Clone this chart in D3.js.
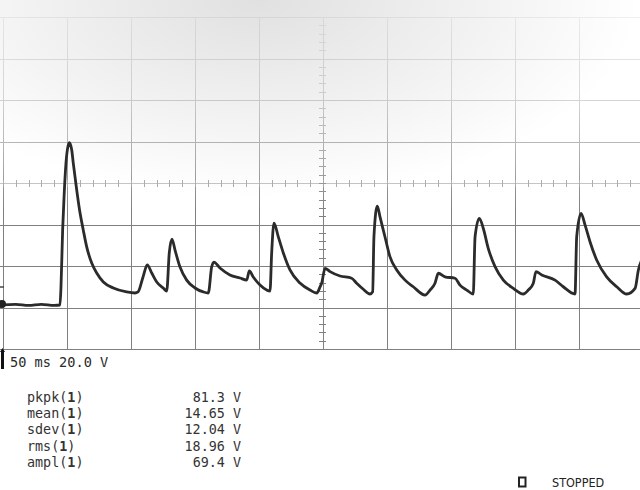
<!DOCTYPE html>
<html>
<head>
<meta charset="utf-8">
<script src="https://cdn.jsdelivr.net/npm/d3@7"></script>
<style>
  html, body { margin: 0; padding: 0; background: #fff; }
  svg { display: block; }
</style>
</head>
<body>
<svg id="chart" width="640" height="490"></svg>
<script>
// ---- data (time in ms, voltage in V relative to ground) ----
const timeMs = [-3, 10, 20, 30, 40, 44.5, 45.3, 46.6, 47.7, 49.2, 51.0, 51.8, 53.7, 54.9, 57.6, 60.2, 62.7, 65.4, 69.3, 73.2, 78.4, 86.2, 96.6, 103.1, 105.5, 109.4, 112.7, 116.2, 120.1, 125.2, 127.9, 129.9, 132.0, 134.4, 138.3, 143.5, 150.0, 156.5, 160.4, 163.0, 164.8, 169.5, 177.3, 185.2, 190.4, 192.4, 195.5, 200.8, 206.0, 208.6, 209.9, 211.7, 215.1, 219.0, 224.2, 232.0, 239.8, 245.1, 247.7, 249.0, 251.6, 255.5, 263.3, 272.4, 276.3, 281.5, 286.7, 288.8, 289.8, 292.4, 294.5, 298.4, 302.3, 307.6, 314.1, 320.5, 329.7, 333.6, 337.5, 340.1, 345.3, 353.1, 357.0, 362.3, 367.4, 368.8, 372.1, 375.2, 379.1, 384.4, 390.9, 398.7, 406.5, 410.4, 414.3, 416.4, 420.9, 431.3, 437.7, 446.9, 448.2, 451.6, 454.7, 458.6, 463.8, 471.6, 479.5, 487.3, 493.8, 496.4, 501.6];
const volts  = [0, 0.3, -0.2, 0.3, -0.2, 0, 8.7, 36.2, 52.1, 68.4, 77.1, 78.2, 74.7, 68.4, 55.4, 44.3, 36.2, 28.0, 20.2, 15.4, 11.1, 8.2, 6.3, 5.8, 6.3, 13.5, 19.3, 15.4, 11.1, 8.2, 6.7, 25.1, 31.8, 26.5, 18.3, 12.0, 8.2, 6.3, 5.8, 18.3, 20.7, 17.8, 14.5, 13.0, 12.0, 16.4, 13.5, 9.6, 7.2, 6.7, 25.1, 39.5, 32.8, 25.1, 16.9, 10.6, 7.2, 5.8, 8.7, 10.6, 17.7, 16.1, 14.0, 12.9, 10.5, 7.6, 5.3, 6.4, 32.9, 47.7, 42.6, 32.9, 23.3, 16.9, 12.0, 8.8, 4.8, 7.2, 10.5, 15.3, 13.6, 12.9, 9.6, 7.2, 5.3, 32.9, 41.8, 37.0, 27.3, 18.5, 12.0, 8.0, 5.3, 7.2, 10.5, 16.1, 14.5, 12.0, 8.8, 5.3, 32.9, 44.2, 38.6, 30.5, 21.7, 13.6, 8.8, 5.3, 8.0, 16.9, 24.1];

const timebaseLabel = "50 ms 20.0 V";
const measureNames  = ["pkpk", "mean", "sdev", "rms", "ampl"];
const measureValues = ["81.3 V", "14.65 V", "12.04 V", "18.96 V", "69.4 V"];
const statusLabel   = "STOPPED";

const msPerDiv = 50, vPerDiv = 20, groundDiv = 2.94;   // ground sits 2.94 div below centre

// ---- layout ----
const svg = d3.select("#chart");
const L = 3, R = 643, T = 17, B = 349;
const x = d3.scaleLinear().domain([0, 10 * msPerDiv]).range([L, R]);
const y = d3.scaleLinear().domain([(-4 + groundDiv) * vPerDiv, (4 + groundDiv) * vPerDiv]).range([B, T]);

const defs = svg.append("defs");
const fade = defs.append("linearGradient").attr("id", "fade").attr("x1", 0).attr("y1", 0).attr("x2", 0).attr("y2", 1);
fade.append("stop").attr("offset", "0").attr("stop-color", "#fff").attr("stop-opacity", 0.92);
fade.append("stop").attr("offset", "0.45").attr("stop-color", "#fff").attr("stop-opacity", 0.7);
fade.append("stop").attr("offset", "0.8").attr("stop-color", "#fff").attr("stop-opacity", 0.3);
fade.append("stop").attr("offset", "1").attr("stop-color", "#fff").attr("stop-opacity", 0);
const shade = defs.append("radialGradient").attr("id", "shade").attr("cx", 0.4).attr("cy", 0).attr("r", 0.6);
shade.append("stop").attr("offset", "0").attr("stop-color", "#000").attr("stop-opacity", 0.12);
shade.append("stop").attr("offset", "0.6").attr("stop-color", "#000").attr("stop-opacity", 0.05);
shade.append("stop").attr("offset", "1").attr("stop-color", "#000").attr("stop-opacity", 0);

svg.append("rect").attr("width", 640).attr("height", 490).attr("fill", "#fff");

// grid
const g = svg.append("g").attr("stroke", "#808080").attr("stroke-width", 1).attr("shape-rendering", "crispEdges");
const xGrid = d3.range(0, 10 * msPerDiv + 1, msPerDiv);
const yGrid = d3.range(9).map(i => (i - 4 + groundDiv) * vPerDiv);
g.selectAll(".vx").data(xGrid).join("line")
  .attr("x1", d => Math.round(x(d)) + 0.5).attr("x2", d => Math.round(x(d)) + 0.5)
  .attr("y1", T).attr("y2", B);
g.selectAll(".hy").data(yGrid).join("line")
  .attr("x1", 0).attr("x2", 640)
  .attr("y1", d => Math.round(y(d)) + 0.5).attr("y2", d => Math.round(y(d)) + 0.5)
  .attr("stroke", (d, i) => i === 4 ? "#b8b8b8" : "#808080");

// minor ticks on centre axes
const cx = x(5 * msPerDiv), cy = y(groundDiv * vPerDiv);
const xMinor = d3.range(0, 10 * msPerDiv + 1, msPerDiv / 5);
const yMinor = d3.range(0, 41).map(i => (i / 5 - 4 + groundDiv) * vPerDiv);
g.selectAll(".mx").data(xMinor).join("line")
  .attr("x1", d => Math.round(x(d)) + 0.5).attr("x2", d => Math.round(x(d)) + 0.5)
  .attr("y1", cy - 3).attr("y2", cy + 4).attr("stroke", "#9a9a9a");
g.selectAll(".my").data(yMinor).join("line")
  .attr("y1", d => Math.round(y(d)) + 0.5).attr("y2", d => Math.round(y(d)) + 0.5)
  .attr("x1", cx - 4).attr("x2", cx + 3).attr("stroke", "#808080");

// photographic fading / shading
svg.append("rect").attr("x", 0).attr("y", 0).attr("width", 640).attr("height", 210).attr("fill", "url(#fade)");
svg.append("rect").attr("x", 0).attr("y", 0).attr("width", 640).attr("height", 330).attr("fill", "url(#shade)");

// trace
const pts = timeMs.map((t, i) => [t, volts[i]]);
const line = d3.line().x(d => x(d[0])).y(d => y(d[1])).curve(d3.curveMonotoneX);
svg.append("path").datum(pts).attr("d", line)
  .attr("fill", "none").attr("stroke", "#2b2b2b").attr("stroke-width", 2.8)
  .attr("stroke-linejoin", "round").attr("stroke-linecap", "round");

// ground marker
svg.append("circle").attr("cx", 2).attr("cy", y(0) - 1).attr("r", 4).attr("fill", "#222");
svg.append("line").attr("x1", 0).attr("x2", 4).attr("y1", y(0) - 18).attr("y2", y(0) - 18).attr("stroke", "#444").attr("stroke-width", 1.5);

// trigger marker
svg.append("path").attr("d", `M0,${B + 3} L2.5,${B - 1} L5,${B + 3} Z`).attr("fill", "#111");
svg.append("rect").attr("x", 1).attr("y", B + 2).attr("width", 3).attr("height", 18).attr("fill", "#111");

// texts
const mono = "'DejaVu Sans Mono', monospace";
svg.append("text").attr("x", 10).attr("y", 367).attr("font-family", mono).attr("font-size", 13.6)
  .attr("fill", "#2a2a2a").text(timebaseLabel);

const rows = svg.append("g").attr("font-family", mono).attr("font-size", 13.4).attr("fill", "#333");
measureNames.forEach((n, i) => {
  const ty = 402 + i * 16.2;
  const t = rows.append("text").attr("x", 27).attr("y", ty);
  t.append("tspan").text(n + "(");
  t.append("tspan").attr("font-weight", "bold").text("1");
  t.append("tspan").text(")");
  rows.append("text").attr("x", 241).attr("y", ty).attr("text-anchor", "end").text(measureValues[i]);
});

svg.append("rect").attr("x", 519).attr("y", 477.5).attr("width", 6.5).attr("height", 9).attr("fill", "none")
  .attr("stroke", "#222").attr("stroke-width", 2);
svg.append("text").attr("x", 552).attr("y", 487).attr("font-family", "'DejaVu Sans Condensed', 'DejaVu Sans', sans-serif")
  .attr("font-size", 12.5).attr("fill", "#222").text(statusLabel);
</script>
</body>
</html>
